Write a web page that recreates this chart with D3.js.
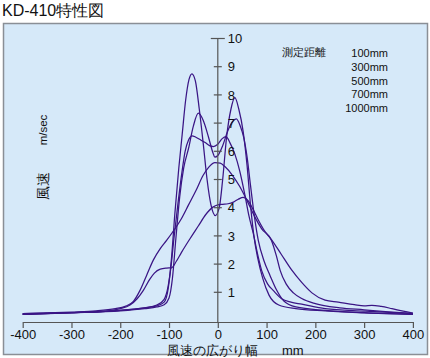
<!DOCTYPE html>
<html><head><meta charset="utf-8">
<script src="https://cdn.jsdelivr.net/npm/d3@7"></script>
<style>body{margin:0;background:#fff;}svg{display:block;font-family:"Liberation Sans",Arial,sans-serif;}</style>
</head><body><svg id="c" width="430" height="358"></svg>
<script>
const title = "KD-410特性図";
const xTicks = [-400,-300,-200,-100,0,100,200,300,400];
const yTicks = [1,2,3,4,5,6,7,8,9,10];
const seriesNames = ["100mm","300mm","500mm","700mm","1000mm"];
const legendTitle = "測定距離";
const xLabel = "風速の広がり幅";
const xUnit = "mm";
const yLabel = "風速";
const yUnit = "m/sec";

const s100x = [-400,-300,-200,-150,-125,-110,-102,-95,-88,-80,-73,-66,-59,-53,-46,-38,-30,-22,-14,-5,3,10,18,27,35,43,52,60,67,74,82,92,105,125,160,220,300,400];
const s100y = [0.22,0.28,0.36,0.45,0.52,0.65,1.1,2.2,3.8,5.4,6.6,7.8,8.55,8.75,8.5,7.5,6.3,5.0,4.1,3.72,4.0,5.0,6.5,7.5,7.9,7.5,6.7,5.5,4.1,3.0,2.2,1.5,0.9,0.55,0.42,0.34,0.27,0.22];

const s300x = [-400,-300,-200,-150,-125,-110,-100,-93,-86,-78,-70,-60,-50,-40,-30,-19,-10,-6,0,10,20,30,38,46,53,60,67,75,83,95,107,120,135,160,220,300,400];
const s300y = [0.22,0.27,0.34,0.42,0.48,0.56,0.8,1.5,2.9,4.4,5.4,6.1,6.9,7.35,7.1,6.5,5.95,5.79,5.85,6.2,6.7,7.05,7.15,6.9,6.5,5.8,4.8,3.7,2.84,2.1,1.6,1.1,0.7,0.48,0.36,0.28,0.22];

const s500x = [-400,-300,-200,-150,-125,-110,-102,-96,-90,-82,-74,-67,-60,-53,-45,-35,-25,-17,-9,0,9,17,25,35,45,55,64,73,81,90,102,114,131,150,172,220,302,400];
const s500y = [0.22,0.28,0.36,0.45,0.55,0.75,1.2,1.9,2.9,4.1,5.2,6.0,6.4,6.55,6.5,6.4,6.3,6.2,6.17,6.25,6.45,6.52,6.3,5.9,5.3,4.5,3.7,3.07,2.4,1.77,1.3,1.06,0.77,0.65,0.58,0.42,0.33,0.24];

const s700x = [-400,-300,-250,-210,-190,-173,-160,-146,-132,-118,-105,-90,-75,-60,-45,-30,-18,-6,5,15,30,45,60,75,90,110,120,128,140,155,172,200,250,300,350,400];
const s700y = [0.24,0.3,0.34,0.42,0.5,0.68,1.05,1.6,2.15,2.55,2.84,3.2,3.6,4.1,4.6,5.15,5.45,5.6,5.58,5.45,5.15,4.75,4.25,3.7,3.25,2.84,2.3,1.77,1.3,0.98,0.78,0.6,0.45,0.38,0.31,0.25];

const s1000x = [-400,-300,-250,-221,-200,-180,-165,-153,-140,-130,-118,-105,-95,-85,-75,-57,-40,-25,-10,0,10,21,32,42,52,62,72,82,95,110,130,151,172,193,220,247,280,300,316,335,357,380,400];
const s1000y = [0.24,0.28,0.31,0.35,0.42,0.55,0.78,1.06,1.45,1.68,1.82,1.86,1.87,2.1,2.4,2.9,3.35,3.75,4.02,4.1,4.12,4.14,4.2,4.3,4.37,4.25,3.95,3.6,3.2,2.87,2.35,1.8,1.35,0.98,0.72,0.65,0.56,0.52,0.54,0.5,0.42,0.33,0.26];

const seriesX = [s100x,s300x,s500x,s700x,s1000x];
const seriesY = [s100y,s300y,s500y,s700y,s1000y];

const svg = d3.select("#c");
const lineColor = "#3a1585";
const bg = "#d6e9f9";

svg.append("text").attr("x",2).attr("y",16).attr("font-size",16).attr("fill","#111").text(title);
svg.append("rect").attr("x",3.5).attr("y",23.5).attr("width",424).attr("height",331).attr("fill",bg).attr("stroke","#8a8f96").attr("stroke-width",1.5);

const x = d3.scaleLinear().domain([-400,400]).range([22.7,412.9]);
const y = d3.scaleLinear().domain([0,10]).range([320.5,38.5]);
const axisY0 = 322;

const g = svg.append("g");
const line = d3.line().x(d=>x(d[0])).y(d=>y(d[1])).curve(d3.curveMonotoneX);
seriesNames.forEach((n,i)=>{
  const pts = seriesX[i].map((v,j)=>[v,seriesY[i][j]]);
  g.append("path").attr("d",line(pts)).attr("fill","none").attr("stroke",lineColor).attr("stroke-width",1.25);
});

// x axis
const xa = svg.append("g").attr("transform",`translate(0,${axisY0})`)
  .call(d3.axisBottom(x).tickValues(xTicks).tickSize(6).tickSizeOuter(0).tickPadding(2).tickFormat(d=>String(d)));
xa.select(".domain").attr("stroke","#555").attr("stroke-width",1.2);
xa.selectAll(".tick line").attr("stroke","#555").attr("stroke-width",1.2);
xa.selectAll(".tick text").attr("font-size",13).attr("fill","#111").attr("font-family","Liberation Sans, Arial, sans-serif");

// y axis
const x0 = x(0);
svg.append("line").attr("x1",x0).attr("x2",x0).attr("y1",y(10)).attr("y2",axisY0).attr("stroke","#555").attr("stroke-width",1.2);
const yt = svg.append("g");
yTicks.forEach(t=>{
  const w = t===10?7:4;
  yt.append("line").attr("x1",x0-w).attr("x2",x0+w).attr("y1",y(t)).attr("y2",y(t)).attr("stroke","#555").attr("stroke-width",1.2);
  yt.append("text").attr("x",x0+10).attr("y",y(t)).attr("dy","0.36em").attr("font-size",13).attr("fill","#111").text(t);
});

// axis labels
svg.append("text").attr("x",167).attr("y",355).attr("font-size",12.5).attr("fill","#111").text(xLabel);
svg.append("text").attr("x",282).attr("y",355).attr("font-size",13).attr("fill","#111").text(xUnit);
svg.append("text").attr("transform","translate(47,130) rotate(-90)").attr("text-anchor","middle").attr("font-size",11.5).attr("fill","#111").text(yUnit);
svg.append("text").attr("transform","translate(48,186) rotate(-90)").attr("text-anchor","middle").attr("font-size",13.5).attr("fill","#111").text(yLabel);

// legend
svg.append("text").attr("x",282).attr("y",56).attr("font-size",11).attr("fill","#111").text(legendTitle);
seriesNames.forEach((n,i)=>{
  svg.append("text").attr("x",388).attr("y",57+i*13.8).attr("text-anchor","end").attr("font-size",11).attr("fill","#111").text(n);
});
</script></body></html>
